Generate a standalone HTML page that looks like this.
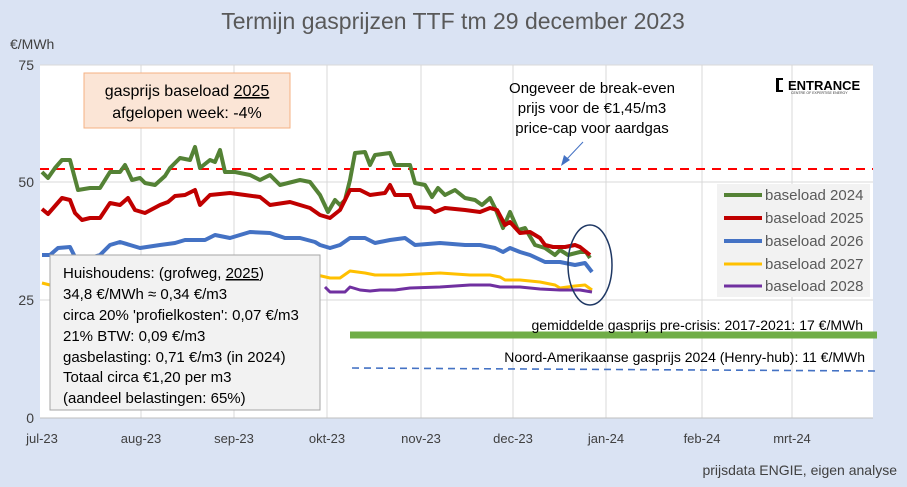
<!DOCTYPE html>
<html><head><meta charset="utf-8"><style>
body{margin:0;background:#dae3f3;}
svg{display:block;font-family:"Liberation Sans",sans-serif;}
</style></head><body>
<svg width="907" height="487" viewBox="0 0 907 487">
<rect width="907" height="487" fill="#dae3f3"/>
<rect x="40" y="65" width="833" height="353" fill="#fff"/>
<g stroke="#d9d9d9" stroke-width="1">
<line x1="40" y1="65" x2="873" y2="65"/><line x1="40" y1="182" x2="873" y2="182"/><line x1="40" y1="300" x2="873" y2="300"/>
<line x1="141" y1="65" x2="141" y2="418"/><line x1="234" y1="65" x2="234" y2="418"/><line x1="327" y1="65" x2="327" y2="418"/><line x1="421" y1="65" x2="421" y2="418"/><line x1="513" y1="65" x2="513" y2="418"/><line x1="606" y1="65" x2="606" y2="418"/><line x1="702" y1="65" x2="702" y2="418"/><line x1="792" y1="65" x2="792" y2="418"/>
</g>
<line x1="40" y1="418" x2="873" y2="418" stroke="#bfbfbf"/>
<text x="453" y="29" font-size="23" fill="#595959" text-anchor="middle">Termijn gasprijzen TTF tm 29 december 2023</text>
<text x="10" y="49" font-size="14" fill="#404040">€/MWh</text>
<g font-size="14" fill="#404040" text-anchor="end"><text x="34" y="70">75</text><text x="34" y="187">50</text><text x="34" y="305">25</text><text x="34" y="423">0</text></g>
<g font-size="13" fill="#404040" text-anchor="middle"><text x="42" y="443">jul-23</text><text x="141" y="443">aug-23</text><text x="234" y="443">sep-23</text><text x="327" y="443">okt-23</text><text x="421" y="443">nov-23</text><text x="513" y="443">dec-23</text><text x="606" y="443">jan-24</text><text x="702" y="443">feb-24</text><text x="792" y="443">mrt-24</text></g>
<text x="897" y="475" font-size="14" fill="#404040" text-anchor="end">prijsdata ENGIE, eigen analyse</text>
<line x1="40" y1="169" x2="873" y2="169" stroke="#ff0000" stroke-width="2" stroke-dasharray="9,7"/>
<line x1="350" y1="335" x2="877" y2="335" stroke="#70ad47" stroke-width="7"/>
<line x1="352" y1="368" x2="877" y2="371" stroke="#4472c4" stroke-width="1.6" stroke-dasharray="7,5"/>
<g fill="none" stroke-width="4" stroke-linejoin="round">
<polyline stroke="#548235" points="42,172 48,178 55,168 62,160 70,160 78,190 90,188 100,188 110,172 120,172 125,165 132,180 140,178 145,183 155,185 165,176 170,168 180,158 190,160 195,147 200,168 210,160 215,162 220,150 225,172 235,172 250,175 260,180 270,175 280,185 300,180 310,182 320,195 328,212 335,200 340,205 345,200 350,180 355,153 365,152 370,165 375,155 390,153 395,165 410,165 415,183 425,185 432,197 438,188 445,195 455,190 465,198 475,200 482,205 490,198 496,210 503,228 510,212 518,230 525,228 535,245 545,248 555,255 560,250 568,255 580,252 586,252 590,258"/>
<polyline stroke="#c00000" points="42,209 48,214 55,206 62,198 70,200 75,213 82,220 90,218 100,218 110,203 120,205 128,198 135,210 145,213 160,205 168,202 175,196 185,195 195,190 200,205 210,195 220,194 230,193 245,195 260,197 270,205 290,202 310,208 320,215 330,218 340,210 350,190 360,190 370,195 385,193 390,185 395,195 410,195 415,207 430,208 435,212 445,208 465,210 480,212 490,208 497,210 505,225 510,222 520,233 530,232 540,238 545,245 553,247 565,247 575,245 580,247 590,255"/>
<polyline stroke="#4472c4" points="42,255 50,255 58,248 70,247 78,263 90,258 100,255 110,245 120,242 130,245 140,248 160,245 175,243 185,240 205,240 215,235 230,238 250,232 270,233 285,238 300,238 315,242 320,245 330,248 340,245 350,238 365,238 375,243 390,240 405,238 415,245 440,243 465,245 480,245 495,248 503,252 510,248 520,252 530,255 545,262 560,262 575,265 585,263 592,272"/>
<polyline stroke="#ffc000" stroke-width="3" points="42,283 50,285 317,275 330,278 340,278 350,271 365,273 375,275 400,275 420,274 440,273 470,275 490,275 500,277 505,280 520,280 540,282 555,285 560,288 575,286 585,285 592,290"/>
<polyline stroke="#7030a0" stroke-width="3" points="325,287 330,292 345,292 350,287 360,290 370,291 380,290 395,290 410,288 440,287 470,285 490,285 500,287 520,287 540,289 560,290 580,290 592,292"/>
</g>
<ellipse cx="590" cy="265" rx="22" ry="40" fill="none" stroke="#1f3864" stroke-width="1.5"/>
<line x1="583" y1="142" x2="566" y2="160" stroke="#4472c4" stroke-width="1"/>
<polygon points="561,166 564,155 570,160" fill="#4472c4"/>
<g font-size="15" fill="#000" text-anchor="middle"><text x="592" y="93">Ongeveer de break-even</text><text x="592" y="113">prijs voor de €1,45/m3</text><text x="592" y="133">price-cap voor aardgas</text></g>
<rect x="84" y="73" width="206" height="55" fill="#fbe5d6" stroke="#f4b183"/>
<g font-size="16" fill="#000" text-anchor="middle"><text x="187" y="96">gasprijs baseload <tspan text-decoration="underline">2025</tspan></text><text x="187" y="118">afgelopen week: -4%</text></g>
<rect x="50" y="255" width="270" height="155" fill="#f2f2f2" stroke="#a6a6a6"/>
<g font-size="15" fill="#000"><text x="63" y="278">Huishoudens: (grofweg, <tspan text-decoration="underline">2025</tspan>)</text><text x="63" y="299">34,8 €/MWh ≈ 0,34 €/m3</text><text x="63" y="320">circa 20% 'profielkosten': 0,07 €/m3</text><text x="63" y="341">21% BTW: 0,09 €/m3</text><text x="63" y="362">gasbelasting: 0,71 €/m3  (in 2024)</text><text x="63" y="382">Totaal circa €1,20 per m3</text><text x="63" y="403">(aandeel belastingen: 65%)</text></g>
<text x="863" y="330" font-size="14" fill="#000" text-anchor="end">gemiddelde gasprijs pre-crisis: 2017-2021: 17 €/MWh</text>
<text x="865" y="362" font-size="14" fill="#000" text-anchor="end">Noord-Amerikaanse gasprijs 2024 (Henry-hub): 11 €/MWh</text>
<rect x="717" y="184" width="153" height="113" fill="#f2f2f2"/>
<g stroke-width="4"><line x1="724" y1="195" x2="762" y2="195" stroke="#548235"/><line x1="724" y1="218" x2="762" y2="218" stroke="#c00000"/><line x1="724" y1="241" x2="762" y2="241" stroke="#4472c4"/><line x1="724" y1="264" x2="762" y2="264" stroke="#ffc000" stroke-width="3"/><line x1="724" y1="286" x2="762" y2="286" stroke="#7030a0" stroke-width="3"/></g>
<g font-size="15" fill="#595959"><text x="765" y="200">baseload 2024</text><text x="765" y="223">baseload 2025</text><text x="765" y="246">baseload 2026</text><text x="765" y="269">baseload 2027</text><text x="765" y="291">baseload 2028</text></g>
<rect x="776" y="78" width="7" height="14" fill="#000"/><rect x="779" y="80" width="4" height="10" fill="#fff"/>
<text x="788" y="90" font-size="13" font-weight="bold" fill="#000">ENTRANCE</text>
<text x="791" y="94" font-size="3.5" fill="#333">CENTRE OF EXPERTISE ENERGY</text>
</svg>
</body></html>
